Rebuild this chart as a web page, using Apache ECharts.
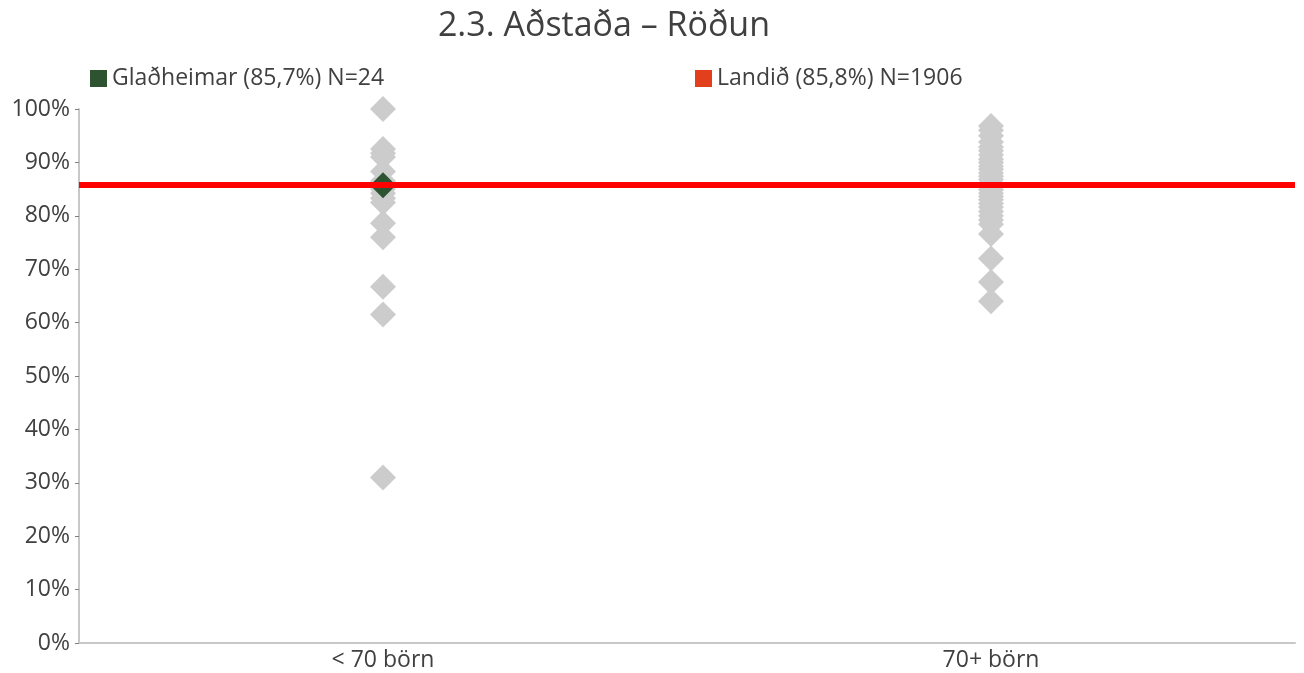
<!DOCTYPE html>
<html>
<head>
<meta charset="utf-8">
<script src="https://cdn.jsdelivr.net/npm/echarts@6/dist/echarts.min.js"></script>
<style>
  html, body { margin: 0; padding: 0; background: #fff; }
  #chart { width: 1304px; height: 673px; }
</style>
</head>
<body>
<div id="chart"></div>
<script>
  // flokkar
  const categories = ['< 70 börn', '70+ börn']

  // aðrir leikskólar, < 70 börn
  const smallSchools = [100, 92.5, 91.7, 91, 88.3, 86.5, 85, 84.2, 83.3, 82.5, 78.6, 76, 66.7, 61.5, 31]

  // aðrir leikskólar, 70+ börn
  const largeSchools = [96.8, 96, 95, 93.8, 92.9, 92.2, 91.4, 90.6, 90, 89.3, 88.7, 88, 87.4, 86.8,
    86.1, 85.5, 84.9, 84.2, 83.6, 83, 82.3, 81.6, 80.8, 80, 79.2, 78.4, 76.6, 72, 67.6, 64]

  // Glaðheimar og landið
  const schoolValue = 85.7
  const nationalValue = 85.8

  const yTicks = { min: 0, max: 100, interval: 10 }

  const greyPoints = []
  smallSchools.forEach(v => greyPoints.push([0, v]))
  largeSchools.forEach(v => greyPoints.push([1, v]))

  const textColor = '#404040'
  const font = '"Open Sans", sans-serif'

  const chart = echarts.init(document.getElementById('chart'))
  chart.setOption({
    animation: false,
    title: {
      text: '2.3. Aðstaða – Röðun',
      left: 599,
      textAlign: 'center',
      top: 4,
      textStyle: { fontSize: 34, fontWeight: 'normal', color: textColor, fontFamily: font }
    },
    legend: [
      {
        left: 85, top: 62,
        itemWidth: 17, itemHeight: 17, icon: 'rect', itemGap: 8,
        data: ['Glaðheimar (85,7%) N=24'],
        textStyle: { fontSize: 23, color: textColor, fontFamily: font }
      },
      {
        left: 690, top: 62,
        itemWidth: 17, itemHeight: 17, icon: 'rect',
        data: ['Landið (85,8%) N=1906'],
        textStyle: { fontSize: 23, color: textColor, fontFamily: font }
      }
    ],
    grid: { left: 79, right: 9, top: 109, bottom: 30 },
    xAxis: {
      type: 'category',
      data: categories,
      boundaryGap: true,
      axisLine: { lineStyle: { color: '#c8c8c8', width: 2 } },
      axisTick: { show: false },
      axisLabel: { fontSize: 23, color: textColor, fontFamily: font, margin: 6 },
      splitLine: { show: false }
    },
    yAxis: {
      type: 'value',
      min: yTicks.min,
      max: yTicks.max,
      interval: yTicks.interval,
      axisLine: { show: true, lineStyle: { color: '#c8c8c8', width: 2 } },
      axisTick: { show: true, length: 4, lineStyle: { color: '#808080' } },
      axisLabel: { formatter: '{value}%', fontSize: 23, color: textColor, fontFamily: font, margin: 9 },
      splitLine: { show: false }
    },
    series: [
      {
        name: 'Aðrir',
        type: 'scatter',
        symbol: 'diamond',
        symbolSize: 26,
        itemStyle: { color: '#cccccc', opacity: 1 },
        data: greyPoints,
        z: 2
      },
      {
        name: 'Landið (85,8%) N=1906',
        type: 'scatter',
        data: [],
        itemStyle: { color: '#e2401c', opacity: 1 },
        markLine: {
          silent: true,
          symbol: 'none',
          label: { show: false },
          lineStyle: { color: '#ff0000', width: 6, type: 'solid', opacity: 1 },
          data: [{ yAxis: nationalValue }]
        },
        z: 3
      },
      {
        name: 'Glaðheimar (85,7%) N=24',
        type: 'scatter',
        symbol: 'diamond',
        symbolSize: 26,
        itemStyle: { color: '#2d5330', opacity: 1 },
        data: [[0, schoolValue]],
        z: 4
      }
    ]
  })
</script>
</body>
</html>
